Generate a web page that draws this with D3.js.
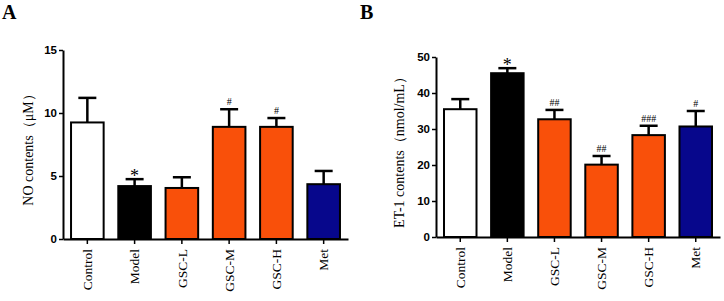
<!DOCTYPE html>
<html>
<head>
<meta charset="utf-8">
<script src="https://cdn.jsdelivr.net/npm/d3@7"></script>
<style>
  body { margin: 0; background: #fff; }
  svg { display: block; }
</style>
</head>
<body>
<div id="chart"></div>
<script>
const groups = ["Control", "Model", "GSC-L", "GSC-M", "GSC-H", "Met"];
const colors = ["#ffffff", "#000000", "#f9500a", "#f9500a", "#f9500a", "#07078c"];

const noMean = [9.25, 4.2, 4.05, 8.9, 8.9, 4.35];
const noErr = [1.95, 0.55, 0.85, 1.4, 0.7, 1.05];
const noSig = ["", "*", "", "#", "#", ""];
const noTicks = [0, 5, 10, 15];

const etMean = [35.5, 45.5, 32.7, 20.1, 28.3, 30.7];
const etErr = [2.8, 1.4, 2.6, 2.4, 2.6, 4.3];
const etSig = ["", "*", "##", "##", "###", "#"];
const etTicks = [0, 10, 20, 30, 40, 50];

const width = 724;
const height = 301;

const svg = d3.select("#chart")
  .append("svg")
  .attr("width", width)
  .attr("height", height);

function panel(opts) {
  const g = svg.append("g");

  const x = d3.scaleBand()
    .domain(groups)
    .range([opts.left, opts.right])
    .paddingInner(0.31)
    .paddingOuter(0.17);

  const y = d3.scaleLinear()
    .domain([0, opts.max])
    .range([opts.bottom, opts.top]);

  // bars
  g.selectAll("rect.bar")
    .data(opts.mean)
    .join("rect")
    .attr("class", "bar")
    .attr("x", (d, i) => x(groups[i]))
    .attr("y", d => y(d))
    .attr("width", x.bandwidth())
    .attr("height", d => y(0) - y(d))
    .attr("fill", (d, i) => colors[i])
    .attr("stroke", "#000")
    .attr("stroke-width", 2);

  // error bars (upper only)
  const cap = 9;
  opts.mean.forEach((m, i) => {
    const cx = x(groups[i]) + x.bandwidth() / 2;
    const top = y(m + opts.err[i]);
    g.append("line")
      .attr("x1", cx).attr("x2", cx)
      .attr("y1", y(m)).attr("y2", top)
      .attr("stroke", "#000").attr("stroke-width", 2.5);
    g.append("line")
      .attr("x1", cx - cap).attr("x2", cx + cap)
      .attr("y1", top).attr("y2", top)
      .attr("stroke", "#000").attr("stroke-width", 2.5);
    const s = opts.sig[i];
    if (s) {
      g.append("text")
        .attr("x", cx)
        .attr("y", s === "*" ? top + 3 : top - 4)
        .attr("text-anchor", "middle")
        .attr("font-family", "Liberation Serif, serif")
        .attr("font-size", s === "*" ? 18 : 10)
        .text(s);
    }
  });

  // y axis
  const yAxis = g.append("g")
    .attr("transform", `translate(${opts.left},0)`)
    .call(d3.axisLeft(y).tickValues(opts.ticks).tickSize(4).tickSizeOuter(0).tickPadding(2));
  yAxis.select(".domain").attr("stroke-width", 2);
  yAxis.selectAll(".tick line").attr("stroke-width", 1.5);
  yAxis.selectAll("text")
    .attr("font-family", "Liberation Sans, Arial, sans-serif")
    .attr("font-weight", "bold")
    .attr("font-size", 11.5)
    .attr("fill", "#000");

  // x axis
  const xAxis = g.append("g")
    .attr("transform", `translate(0,${opts.bottom})`)
    .call(d3.axisBottom(x).tickSize(5).tickSizeOuter(0).tickPadding(6));
  xAxis.select(".domain").attr("stroke-width", 2);
  xAxis.selectAll(".tick line").attr("stroke-width", 1.5);
  xAxis.selectAll("text")
    .attr("transform", "rotate(-90)")
    .attr("text-anchor", "end")
    .attr("x", -10)
    .attr("y", 0)
    .attr("dy", "0.35em")
    .attr("font-family", "Liberation Serif, serif")
    .attr("font-size", 13.5)
    .attr("fill", "#000");

  // y label
  g.append("text")
    .attr("transform", `translate(${opts.labelX},${(opts.top + opts.bottom) / 2 + 2}) rotate(-90)`)
    .attr("text-anchor", "middle")
    .attr("font-family", "Liberation Serif, serif")
    .attr("font-size", 14)
    .text(opts.label);

  // panel letter
  g.append("text")
    .attr("x", opts.letterX)
    .attr("y", 19)
    .attr("font-family", "Liberation Serif, serif")
    .attr("font-weight", "bold")
    .attr("font-size", 20)
    .text(opts.letter);
}

panel({
  left: 63, right: 348, top: 50, bottom: 239, max: 15,
  mean: noMean, err: noErr, sig: noSig, ticks: noTicks,
  label: "NO contents（μM）", labelX: 33, letter: "A", letterX: 2
});

panel({
  left: 436, right: 720, top: 57, bottom: 237, max: 50,
  mean: etMean, err: etErr, sig: etSig, ticks: etTicks,
  label: "ET-1 contents（nmol/mL）", labelX: 404, letter: "B", letterX: 360
});
</script>
</body>
</html>
